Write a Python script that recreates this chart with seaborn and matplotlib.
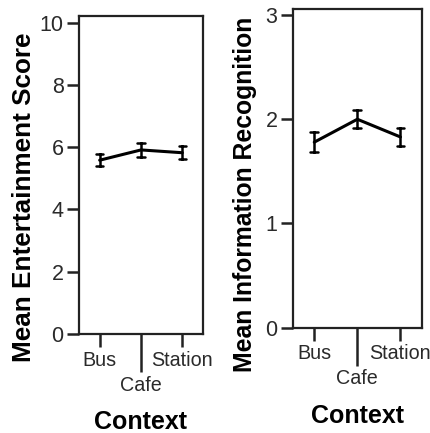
import numpy as np
import pandas as pd
import matplotlib
matplotlib.use("Agg")
import matplotlib.pyplot as plt
import seaborn as sns

# Mean scores per context with the half-width of each error bar
contexts = ["Bus", "Cafe", "Station"]
entertainment_mean = [5.58, 5.91, 5.82]
entertainment_err = [0.20, 0.22, 0.21]
recognition_mean = [1.78, 2.00, 1.83]
recognition_err = [0.095, 0.085, 0.085]

sns.set_theme(style="white")
plt.rcParams["font.family"] = ["Liberation Sans", "DejaVu Sans"]


def long_table(means, errs):
    # lower bound, mean and upper bound per context: the mean of the three is the
    # plotted point and the min/max span the error bar
    rows = []
    for c, m, e in zip(contexts, means, errs):
        for v in (m - e, m, m + e):
            rows.append({"Context": c, "value": v})
    return pd.DataFrame(rows)


fig = plt.figure(figsize=(4.31, 4.33), dpi=100)
ax1 = fig.add_axes([79 / 431, 1 - 334 / 433, 124 / 431, 318 / 433])
ax2 = fig.add_axes([292.7 / 431, 1 - 327.7 / 433, 129.3 / 431, 318.4 / 433])

panels = [
    (ax1, entertainment_mean, entertainment_err, "Mean Entertainment Score",
     (0, 10.21), [0, 2, 4, 6, 8, 10], (-0.44, 0.43), 18.8),
    (ax2, recognition_mean, recognition_err, "Mean Information Recognition",
     (0, 3.055), [0, 1, 2, 3], (-0.37, 0.42), 17.8),
]

for ax, means, errs, ylabel, ylim, yticks, lab_xy, lab_size in panels:
    df = long_table(means, errs)
    sns.pointplot(data=df, x="Context", y="value", order=contexts, ax=ax,
                  estimator="mean", errorbar=lambda v: (v.min(), v.max()),
                  color="black", markers="", linewidth=2.2, capsize=0.18,
                  err_kws={"linewidth": 1.8})
    ax.set_xlim(-0.5, 2.5)
    ax.set_ylim(*ylim)
    ax.set_yticks(yticks)
    ax.set_yticklabels([str(t) for t in yticks])

    # Bus and Station on short ticks, Cafe on a long tick below them
    ax.set_xticks([0, 2])
    ax.set_xticklabels([contexts[0], contexts[2]])
    ax.set_xticks([1], minor=True)
    ax.set_xticklabels([contexts[1]], minor=True)
    ax.tick_params(axis="x", which="major", direction="out", length=9,
                   width=1.8, color="#222222", pad=3, labelsize=14.2,
                   labelcolor="#2a2a2a", bottom=True)
    ax.tick_params(axis="x", which="minor", direction="out", length=27,
                   width=1.8, color="#222222", pad=3, labelsize=14.2,
                   labelcolor="#2a2a2a", bottom=True)
    ax.tick_params(axis="y", direction="out", length=9, width=1.8,
                   color="#222222", pad=2, labelsize=15.5,
                   labelcolor="#2a2a2a", left=True)

    for s in ax.spines.values():
        s.set_visible(True)
        s.set_color("#222222")
        s.set_linewidth(1.6)

    ax.set_ylabel(ylabel, fontsize=lab_size, fontweight="bold", color="black")
    ax.yaxis.set_label_coords(*lab_xy)
    ax.yaxis.label.set_va("center")
    ax.set_xlabel("Context", fontsize=18, fontweight="bold", color="black")
    ax.xaxis.set_label_coords(0.5, -0.24)

fig.savefig("out.png", dpi=100, facecolor="white")
